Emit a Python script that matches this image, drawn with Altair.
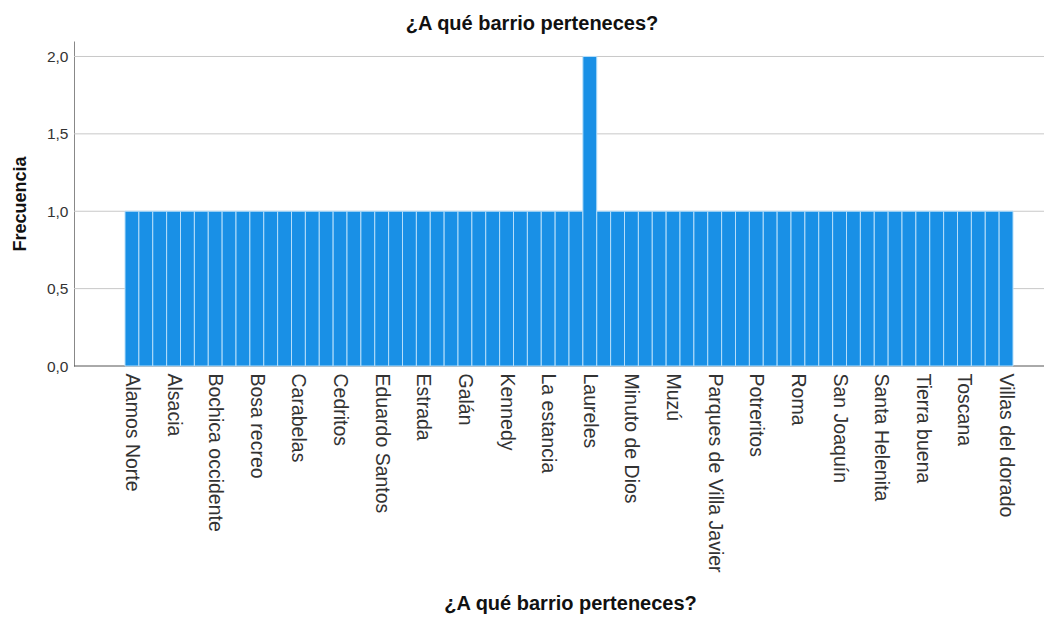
import altair as alt
import pandas as pd

barrios = [
    "Alamos Norte", "Alfonso López", "Alhambra",
    "Alsacia", "Américas", "Bachué",
    "Bochica occidente", "Bolivia", "Bosa centro",
    "Bosa recreo", "Britalia", "Candelaria",
    "Carabelas", "Casablanca", "Castilla",
    "Cedritos", "Chapinero", "Chicó",
    "Eduardo Santos", "El Restrepo", "Engativá",
    "Estrada", "Fátima", "Fontibón",
    "Galán", "Hayuelos", "Isla del Sol",
    "Kennedy", "La Castellana", "La Esmeralda",
    "La estancia", "La Soledad", "Las Ferias",
    "Laureles", "Lisboa", "Marsella",
    "Minuto de Dios", "Modelia", "Molinos",
    "Muzú", "Normandía", "Palermo",
    "Parques de Villa Javier", "Patio Bonito", "Policarpa",
    "Potreritos", "Quinta Paredes", "Ricaurte",
    "Roma", "Salitre", "San Cristóbal",
    "San Joaquín", "San Rafael", "Santa Fe",
    "Santa Helenita", "Suba", "Teusaquillo",
    "Tierra buena", "Timiza", "Tintal",
    "Toscana", "Usaquén", "Venecia",
    "Villas del dorado",
]
frecuencia = [1] * len(barrios)
frecuencia[barrios.index("Laureles")] = 2

etiquetas = barrios[::3]
y_ticks = [0, 0.5, 1.0, 1.5, 2.0]

df = pd.DataFrame({"barrio": barrios, "frecuencia": frecuencia})
grid_df = pd.DataFrame({"frecuencia": y_ticks})

FONT = "Liberation Sans"
W, H = 970, 325
y_scale = alt.Scale(domain=[0, 2.1], nice=False, zero=True)


def y_axis():
    return alt.Axis(
        title="Frecuencia",
        values=y_ticks,
        labelExpr="replace(format(datum.value, '.1f'), '.', ',')",
        labelFont=FONT,
        labelFontSize=15.5,
        labelColor="#333333",
        labelPadding=6,
        ticks=False,
        grid=False,
        domainColor="#888888",
        domainWidth=1,
        titleFont=FONT,
        titleFontSize=18,
        titleFontWeight="bold",
        titleColor="#111111",
        titleAngle=-90,
        titleX=-54,
        titleY=162.5,
        titleAlign="center",
        titleBaseline="middle",
    )


grid = (
    alt.Chart(grid_df)
    .mark_rule(strokeWidth=1)
    .encode(
        y=alt.Y("frecuencia:Q", scale=y_scale, axis=y_axis()),
        x=alt.value(0),
        x2=alt.value(W),
        color=alt.condition(
            "datum.frecuencia == 0", alt.value("#555555"), alt.value("#c8c8c8")
        ),
    )
)

bars = (
    alt.Chart(df)
    .mark_bar(color="#1990e6", stroke="#b5defa", strokeWidth=1)
    .encode(
        x=alt.X(
            "barrio:N",
            sort=barrios,
            scale=alt.Scale(range=[51, 939], paddingInner=0, paddingOuter=0),
            axis=alt.Axis(
                title="¿A qué barrio perteneces?",
                values=etiquetas,
                labelAngle=90,
                labelAlign="left",
                labelBaseline="middle",
                labelPadding=7,
                labelFontSize=19.5,
                labelFont=FONT,
                labelColor="#333333",
                labelLimit=400,
                labelOverlap=False,
                ticks=False,
                domain=False,
                titleFont=FONT,
                titleFontSize=20,
                titleFontWeight="bold",
                titleColor="#111111",
                titleX=496,
                titleY=237,
                titleAlign="center",
                titleBaseline="middle",
                grid=False,
            ),
        ),
        y=alt.Y("frecuencia:Q", scale=y_scale, axis=y_axis()),
    )
)

chart = (
    alt.layer(grid, bars)
    .properties(
        width=W,
        height=H,
        padding={"left": 66, "top": 33, "right": 0, "bottom": 248},
        autosize=alt.AutoSizeParams(type="none"),
        title=alt.TitleParams(
            "¿A qué barrio perteneces?",
            anchor="middle",
            dx=-27,
            offset=7,
            font=FONT,
            fontSize=20,
            fontWeight="bold",
            color="#111111",
        ),
    )
    .configure_view(stroke=None)
)

chart.save("out.html", embed_options={"renderer": "svg", "actions": False})
